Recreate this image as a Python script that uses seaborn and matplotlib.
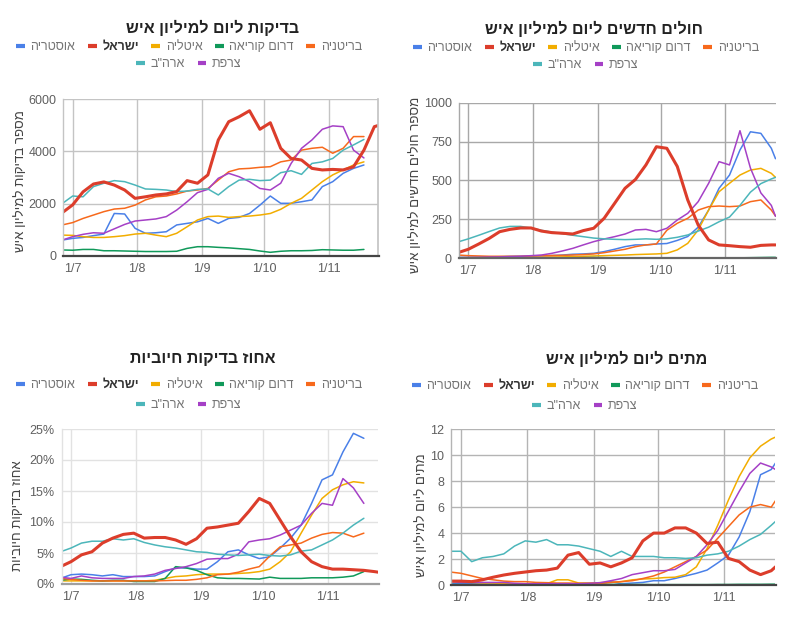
import numpy as np
import pandas as pd
import seaborn as sns
import matplotlib.pyplot as plt
from matplotlib.lines import Line2D

sns.set_theme(style="white")
plt.rcParams["font.family"] = ["Liberation Sans", "DejaVu Sans"]


def rtl(s):
    # matplotlib has no bidi support: feed Hebrew in visual order
    return s[::-1]


nan = np.nan
dates = list(pd.date_range("2020-06-26", periods=31, freq="5D")) + [pd.Timestamp("2020-11-25")]

countries = ["אוסטריה", "ישראל", "איטליה", "דרום קוריאה", "בריטניה", "צרפת", 'ארה"ב']
colors = ["#4a80e8", "#dc3d2b", "#f2ad00", "#10995a", "#f7691c", "#a540c6", "#4cb6ba"]

# tests per million
t_aut = [600, 665, 700, 770, 830, 1620, 1600, 1050, 860, 880, 920, 1180, 1240, 1300, 1430, 1240, 1430, 1470, 1620, 1940, 2290, 2010, 2010, 2070, 2140, 2650, 2840, 3160, 3350, 3480, nan, nan]
t_isr = [1650, 1950, 2450, 2750, 2830, 2710, 2520, 2200, 2260, 2330, 2370, 2460, 2880, 2780, 3100, 4440, 5140, 5330, 5560, 4850, 5100, 4120, 3730, 3670, 3350, 3290, 3310, 3290, 3410, 4050, 4950, 5000]
t_ita = [790, 780, 730, 700, 700, 730, 770, 830, 860, 790, 730, 860, 1110, 1370, 1500, 1520, 1470, 1500, 1520, 1560, 1620, 1780, 2010, 2200, 2520, 2840, 3100, 3290, 3480, 3600, nan, nan]
t_kor = [220, 210, 240, 240, 190, 190, 180, 170, 160, 160, 160, 170, 280, 345, 345, 320, 300, 270, 240, 180, 130, 170, 190, 190, 200, 230, 220, 210, 210, 240, nan, nan]
t_uk = [1180, 1270, 1430, 1560, 1690, 1790, 1820, 1940, 2140, 2260, 2290, 2370, 2480, 2520, 2580, 2900, 3220, 3330, 3350, 3390, 3415, 3600, 3670, 4050, 4120, 4160, 3930, 4120, 4570, 4570, nan, nan]
t_fra = [600, 730, 820, 880, 860, 1030, 1200, 1330, 1370, 1410, 1500, 1750, 2070, 2420, 2545, 2970, 3160, 3030, 2840, 2580, 2520, 2780, 3540, 4120, 4440, 4850, 4980, 4950, 4050, 3750, nan, nan]
t_usa = [2000, 2290, 2260, 2650, 2780, 2880, 2840, 2710, 2560, 2545, 2520, 2460, 2480, 2545, 2560, 2330, 2650, 2900, 2930, 2880, 2900, 3185, 3260, 3120, 3540, 3600, 3730, 4050, 4250, 4460, nan, nan]

# new cases per million
c_aut = [6, 6, 7, 8, 10, 12, 13, 14, 16, 18, 21, 26, 28, 32, 43, 58, 75, 86, 86, 92, 95, 115, 140, 200, 310, 450, 535, 696, 813, 803, 707, 640]
c_isr = [36, 58, 92, 128, 171, 186, 195, 195, 175, 165, 161, 156, 178, 193, 257, 353, 450, 507, 600, 717, 707, 590, 375, 214, 118, 86, 81, 75, 71, 83, 86, 86]
c_ita = [4, 4, 4, 4, 5, 5, 5, 6, 7, 8, 9, 11, 13, 15, 17, 19, 21, 24, 26, 28, 32, 54, 96, 182, 310, 428, 482, 535, 567, 578, 546, 520]
c_kor = [2, 2, 2, 2, 2, 2, 1, 1, 1, 1, 2, 3, 4, 5, 4, 3, 2, 2, 2, 2, 2, 2, 2, 2, 2, 3, 3, 3, 4, 5, 6, 6]
c_uk = [21, 17, 15, 13, 13, 13, 13, 15, 17, 18, 19, 21, 24, 28, 36, 47, 58, 75, 86, 92, 180, 225, 257, 310, 332, 336, 332, 336, 364, 375, 310, 272]
c_fra = [4, 5, 6, 8, 9, 11, 13, 17, 21, 32, 47, 64, 86, 107, 124, 139, 156, 182, 186, 171, 193, 246, 289, 364, 482, 621, 600, 820, 580, 420, 340, 270]
c_usa = [105, 125, 148, 172, 195, 205, 205, 195, 180, 168, 158, 148, 139, 130, 125, 122, 120, 122, 125, 122, 125, 135, 150, 175, 200, 235, 265, 340, 425, 480, 510, 520]

# share of positive tests (%)
p_aut = [0.9, 1.5, 1.6, 1.5, 1.3, 1.5, 1.2, 1.2, 1.2, 1.3, 2.0, 2.6, 2.6, 2.4, 2.4, 3.6, 5.2, 5.5, 4.7, 4.1, 4.4, 5.8, 7.4, 9.5, 13.0, 16.8, 17.6, 21.3, 24.3, 23.5, nan, nan]
p_isr = [2.8, 3.6, 4.7, 5.2, 6.6, 7.4, 8.0, 8.2, 7.4, 7.5, 7.5, 7.1, 6.4, 7.3, 9.0, 9.2, 9.5, 9.8, 11.7, 13.8, 13.0, 10.3, 7.6, 5.2, 3.6, 2.8, 2.4, 2.4, 2.3, 2.2, 2.0, 1.9]
p_ita = [0.5, 0.5, 0.5, 0.5, 0.5, 0.5, 0.5, 0.5, 0.5, 0.6, 0.9, 1.2, 1.3, 1.5, 1.6, 1.6, 1.6, 1.7, 1.8, 2.0, 2.4, 3.6, 5.2, 8.2, 11.1, 13.8, 15.2, 16.0, 16.5, 16.3, nan, nan]
p_kor = [0.6, 0.8, 0.75, 0.6, 0.5, 0.6, 0.6, 0.4, 0.4, 0.4, 0.9, 2.8, 2.6, 2.2, 1.5, 1.0, 0.9, 0.9, 0.85, 0.8, 1.1, 0.9, 0.9, 0.9, 1.0, 1.0, 1.0, 1.1, 1.3, 2.0, nan, nan]
p_uk = [0.9, 0.75, 0.6, 0.5, 0.5, 0.5, 0.5, 0.5, 0.5, 0.5, 0.55, 0.6, 0.6, 0.75, 1.0, 1.5, 1.6, 1.9, 2.4, 2.8, 4.5, 6.0, 6.3, 6.6, 7.4, 8.0, 8.3, 8.2, 7.6, 8.2, nan, nan]
p_fra = [1.1, 0.9, 1.3, 1.0, 0.9, 0.9, 0.9, 1.2, 1.3, 1.6, 2.2, 2.5, 2.8, 3.3, 4.0, 4.1, 4.1, 4.8, 6.8, 7.1, 7.3, 7.9, 8.7, 9.5, 11.4, 13.0, 12.7, 17.0, 15.5, 13.0, nan, nan]
p_usa = [5.2, 5.8, 6.6, 6.9, 6.9, 7.3, 7.1, 7.3, 6.7, 6.3, 6.0, 5.8, 5.5, 5.2, 5.1, 4.8, 4.7, 4.6, 4.7, 4.8, 4.6, 4.5, 4.7, 5.3, 5.5, 6.3, 7.1, 8.2, 9.5, 10.6, nan, nan]

# deaths per million
d_aut = [0.1, 0.1, 0.1, 0.08, 0.08, 0.08, 0.05, 0.05, 0.05, 0.05, 0.05, 0.05, 0.05, 0.08, 0.1, 0.26, 0.1, 0.15, 0.2, 0.33, 0.33, 0.5, 0.7, 0.9, 1.15, 1.7, 2.3, 3.7, 5.65, 8.5, 8.9, 9.4]
d_isr = [0.3, 0.3, 0.26, 0.4, 0.6, 0.77, 0.9, 1.0, 1.1, 1.15, 1.3, 2.3, 2.5, 1.6, 1.7, 1.4, 1.7, 2.1, 3.4, 4.0, 4.0, 4.4, 4.4, 4.0, 3.2, 3.3, 2.05, 1.8, 1.15, 0.8, 1.1, 1.4]
d_ita = [0.26, 0.25, 0.2, 0.15, 0.15, 0.12, 0.1, 0.1, 0.1, 0.1, 0.4, 0.4, 0.15, 0.15, 0.18, 0.2, 0.26, 0.4, 0.46, 0.5, 0.57, 0.6, 0.8, 1.4, 2.8, 4.6, 6.55, 8.35, 9.8, 10.7, 11.25, 11.4]
d_kor = [0.03, 0.03, 0.03, 0.02, 0.02, 0.02, 0.02, 0.02, 0.02, 0.02, 0.03, 0.03, 0.04, 0.04, 0.05, 0.05, 0.04, 0.04, 0.04, 0.03, 0.03, 0.03, 0.03, 0.03, 0.03, 0.04, 0.04, 0.05, 0.05, 0.05, 0.06, 0.06]
d_uk = [1.0, 0.9, 0.7, 0.5, 0.4, 0.3, 0.26, 0.26, 0.2, 0.18, 0.15, 0.15, 0.13, 0.13, 0.13, 0.2, 0.26, 0.33, 0.5, 0.7, 1.0, 1.4, 1.8, 2.2, 2.7, 3.6, 4.5, 5.4, 6.0, 6.2, 6.0, 6.5]
d_fra = [0.26, 0.2, 0.2, 0.2, 0.2, 0.2, 0.13, 0.1, 0.1, 0.1, 0.1, 0.1, 0.1, 0.13, 0.18, 0.33, 0.5, 0.8, 0.95, 1.1, 1.1, 1.2, 1.7, 2.2, 3.1, 4.2, 5.7, 7.2, 8.6, 9.4, 9.1, 8.9]
d_usa = [2.6, 2.6, 1.8, 2.1, 2.2, 2.4, 3.0, 3.4, 3.3, 3.5, 3.1, 3.1, 3.0, 2.8, 2.6, 2.2, 2.6, 2.2, 2.2, 2.2, 2.1, 2.1, 2.05, 2.1, 2.3, 2.4, 2.6, 3.0, 3.5, 3.9, 4.6, 4.9]

panels = [
    dict(title="בדיקות ליום למיליון איש", ylabel="מספר בדיקות למיליון איש",
         series=[t_aut, t_isr, t_ita, t_kor, t_uk, t_fra, t_usa],
         ymax=6000, yticks=[0, 2000, 4000, 6000], pct=False,
         box=(63.3, 99.3, 378.5, 255.7), title_xy=(213, 28), leg_x=189, leg_y=(47, 64),
         ylab_xy=(21, 181), grid="#c4c4c4", base="#444444", right=True),
    dict(title="חולים חדשים ליום למיליון איש", ylabel="מספר חולים חדשים למיליון איש",
         series=[c_aut, c_isr, c_ita, c_kor, c_uk, c_fra, c_usa],
         ymax=1000, yticks=[0, 250, 500, 750, 1000], pct=False,
         box=(458.9, 102.7, 775.5, 258.3), title_xy=(594, 29), leg_x=586, leg_y=(48, 65),
         ylab_xy=(416, 185), grid="#a8a8a8", base="#666666", right=False),
    dict(title="אחוז בדיקות חיוביות", ylabel="אחוז בדיקות חיוביות",
         series=[p_aut, p_isr, p_ita, p_kor, p_uk, p_fra, p_usa],
         ymax=25, yticks=[0, 5, 10, 15, 20, 25], pct=True,
         box=(61.6, 429, 378.5, 584), title_xy=(203, 358), leg_x=189, leg_y=(385, 405),
         ylab_xy=(18, 516), grid="#e2e2e2", base="#a0a0a0", right=False),
    dict(title="מתים ליום למיליון איש", ylabel="מתים ליום למיליון איש",
         series=[d_aut, d_isr, d_ita, d_kor, d_uk, d_fra, d_usa],
         ymax=12, yticks=[0, 2, 4, 6, 8, 10, 12], pct=False,
         box=(451.4, 429.3, 775.5, 585), title_xy=(627, 359), leg_x=585, leg_y=(386, 406),
         ylab_xy=(422, 515), grid="#b4b4b4", base="#444444", right=False),
]

W, H = 800, 619
fig = plt.figure(figsize=(W / 100, H / 100), dpi=100)

# Israel drawn last so it sits on top
draw_order = [c for c in countries if c != "ישראל"] + ["ישראל"]
palette = dict(zip(countries, colors))
widths = {c: (2.2 if c == "ישראל" else 1.1) for c in countries}
month_ticks = [pd.Timestamp(f"2020-{m:02d}-01") for m in range(7, 12)]
month_labels = [f"1/{m}" for m in range(7, 12)]

for p in panels:
    x0, y0, x1, y1 = p["box"]
    ax = fig.add_axes([x0 / W, (H - y1) / H, (x1 - x0) / W, (y1 - y0) / H])

    rows = []
    for name, vals in zip(countries, p["series"]):
        rows.append(pd.DataFrame({"date": dates, "value": vals, "country": name}))
    df = pd.concat(rows).dropna()

    sns.lineplot(data=df, x="date", y="value", hue="country", hue_order=draw_order,
                 size="country", size_order=draw_order, sizes=widths,
                 palette=palette, estimator=None, legend=False, ax=ax)

    ax.set_xlim(pd.Timestamp("2020-06-26 12:00"), pd.Timestamp("2020-11-25"))
    ax.set_ylim(0, p["ymax"])
    ax.set_xticks(month_ticks)
    ax.set_xticklabels(month_labels)
    ax.set_yticks(p["yticks"])
    if p["pct"]:
        ax.set_yticklabels([f"{v}%" for v in p["yticks"]])
    ax.set_xlabel("")
    ax.set_ylabel("")
    ax.grid(True, color=p["grid"], linewidth=1.0)
    ax.set_axisbelow(True)
    ax.tick_params(axis="both", length=0, labelsize=9, colors="#5f5f5f", pad=5)

    for side in ["top", "right"]:
        ax.spines[side].set_visible(False)
    if p["right"]:
        ax.spines["right"].set_visible(True)
        ax.spines["right"].set_color(p["grid"])
    ax.spines["left"].set_color(p["grid"])
    ax.spines["left"].set_linewidth(1.0)
    ax.spines["bottom"].set_color(p["base"])
    ax.spines["bottom"].set_linewidth(1.6)

    fig.text(p["title_xy"][0] / W, 1 - p["title_xy"][1] / H, rtl(p["title"]),
             ha="center", va="center", fontsize=11.5, fontweight="bold", color="#222222")
    fig.text(p["ylab_xy"][0] / W, 1 - p["ylab_xy"][1] / H, rtl(p["ylabel"]),
             ha="center", va="center", rotation=90, fontsize=9.5, color="#444444")

    handles = [Line2D([], [], color=palette[c], lw=3, solid_capstyle="butt") for c in countries]
    labels = [rtl(c) for c in countries]
    leg1 = fig.legend(handles[:5], labels[:5], loc="center",
                      bbox_to_anchor=(p["leg_x"] / W, 1 - p["leg_y"][0] / H),
                      ncol=5, frameon=False, fontsize=9, handlelength=0.7,
                      handletextpad=0.45, columnspacing=1.0, borderpad=0, borderaxespad=0)
    leg2 = fig.legend(handles[5:][::-1], labels[5:][::-1], loc="center",
                      bbox_to_anchor=(p["leg_x"] / W, 1 - p["leg_y"][1] / H),
                      ncol=2, frameon=False, fontsize=9, handlelength=0.7,
                      handletextpad=0.45, columnspacing=1.0, borderpad=0, borderaxespad=0)
    for leg in (leg1, leg2):
        for t in leg.get_texts():
            t.set_color("#757575")
    israel_txt = leg1.get_texts()[1]
    israel_txt.set_fontweight("bold")
    israel_txt.set_color("#333333")

fig.savefig("out.png", dpi=100)
